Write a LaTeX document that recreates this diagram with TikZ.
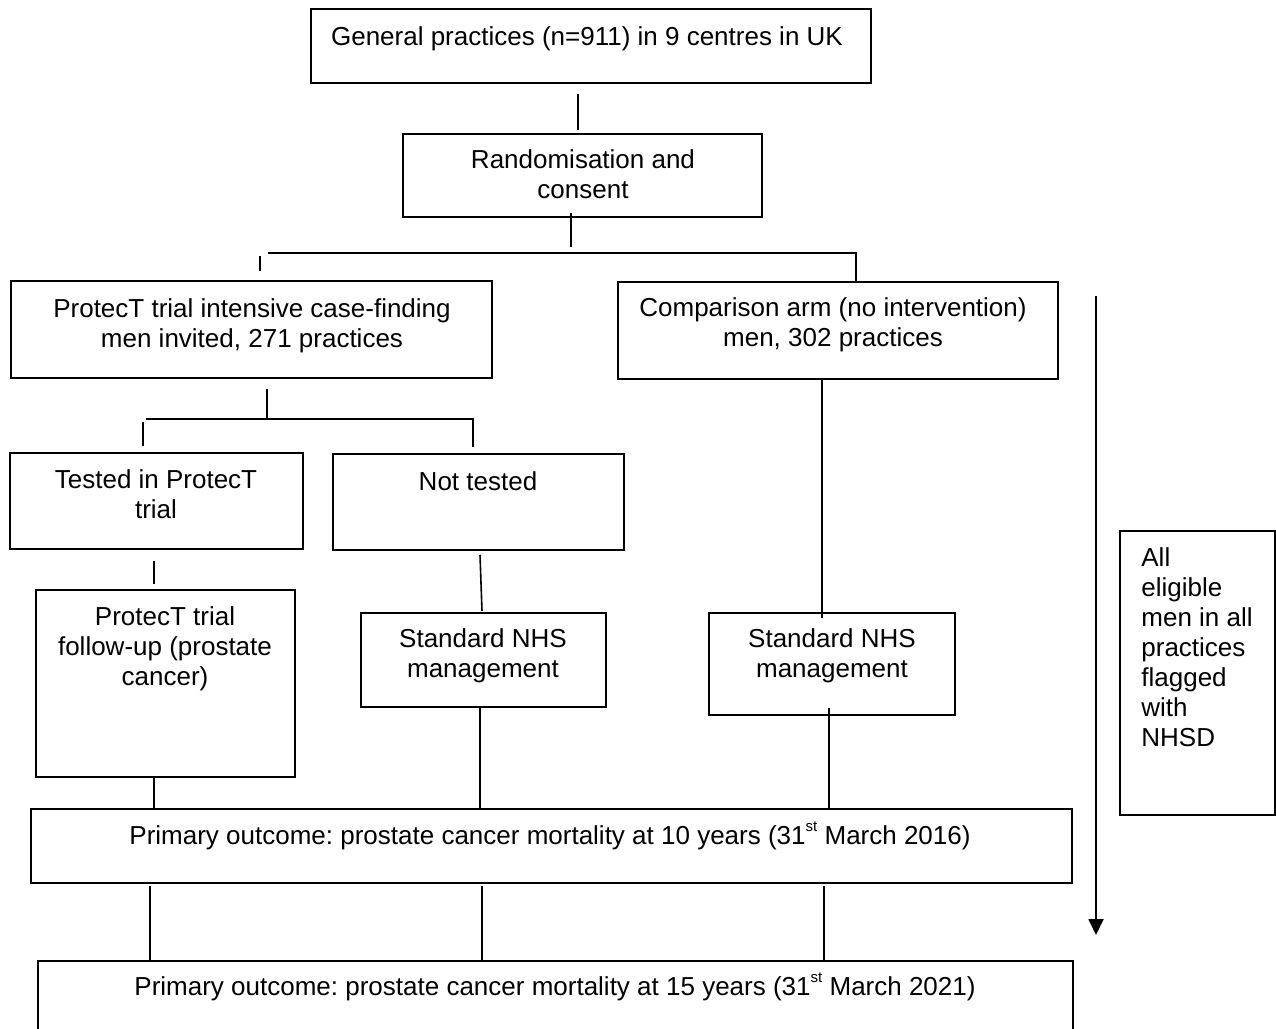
\documentclass[tikz,border=0pt]{standalone}
\usepackage{fontspec}
\setmainfont{Liberation Sans}
\usetikzlibrary{arrows.meta,calc}
\newcommand{\mysup}[1]{\raisebox{0.5em}{\fontsize{7.5pt}{8pt}\selectfont #1}}
\begin{document}
\frenchspacing
\begin{tikzpicture}[x=0.5pt,y=-0.5pt,
  box/.style={draw,line width=1pt,inner sep=0pt},
  txt/.style={inner sep=0pt,anchor=base,font=\fontsize{13pt}{15pt}\selectfont},
  conn/.style={line width=0.8pt},
  longarrow/.style={line width=0.9pt,-{Triangle[width=7.5pt,length=8pt]}}]
\useasboundingbox (0,0) rectangle (1276,1029);
\clip (0,0) rectangle (1276,1029);
\fill[white] (0,0) rectangle (1276,1029);

% boxes
\node[box,minimum width=280pt,minimum height=37pt] (gen) at (591,46) {};
\node[box,minimum width=179.5pt,minimum height=41.5pt] (rand) at (582.5,175.5) {};
\node[box,minimum width=240.5pt,minimum height=48.5pt] (protect) at (251.5,329.5) {};
\node[box,minimum width=220pt,minimum height=48.5pt] (comp) at (838,330.5) {};
\node[box,minimum width=146.5pt,minimum height=48pt] (tested) at (156.5,501) {};
\node[box,minimum width=145.5pt,minimum height=48pt] (nottested) at (478.5,502) {};
\node[box,minimum width=129.5pt,minimum height=93.5pt] (follow) at (165.5,683.5) {};
\node[box,minimum width=122.5pt,minimum height=47pt] (stdmid) at (483.5,660) {};
\node[box,minimum width=123pt,minimum height=51pt] (stdright) at (832,664) {};
\node[box,minimum width=520.5pt,minimum height=37pt] (ten) at (551.5,846) {};
\node[box,minimum width=517.5pt,minimum height=39.5pt] (fifteen) at (555.5,1000.5) {};
\node[box,minimum width=77.5pt,minimum height=142pt] (elig) at (1197.5,673) {};

% texts
\node[txt] (genT) at (587,45) {\parbox[t]{280pt}{\centering General practices (n=911) in 9 centres in UK}};
\node[txt] (randT) at (583,168) {\parbox[t]{170pt}{\centering Randomisation and\\consent}};
\node[txt] (protectT) at (252,317) {\parbox[t]{240pt}{\centering ProtecT trial intensive case-finding\\men invited, 271 practices}};
\node[txt] (compT) at (833,316) {\parbox[t]{220pt}{\centering Comparison arm (no intervention)\\men, 302 practices}};
\node[txt] (testedT) at (156,488) {\parbox[t]{140pt}{\centering Tested in ProtecT\\trial}};
\node[txt] (nottestedT) at (478,490) {\parbox[t]{140pt}{\centering Not tested}};
\node[txt] (followT) at (165,625) {\parbox[t]{128pt}{\centering ProtecT trial\\follow-up (prostate\\cancer)}};
\node[txt] (stdmidT) at (483,647) {\parbox[t]{120pt}{\centering Standard NHS\\management}};
\node[txt] (stdrightT) at (832,647) {\parbox[t]{120pt}{\centering Standard NHS\\management}};
\node[txt] (tenT) at (550,844) {\parbox[t]{500pt}{\centering Primary outcome: prostate cancer mortality at 10 years (31\mysup{st} March 2016)}};
\node[txt] (fifteenT) at (555,995) {\parbox[t]{500pt}{\centering Primary outcome: prostate cancer mortality at 15 years (31\mysup{st} March 2021)}};
\node[txt,anchor=base west] (eligT) at (1141,566) {\parbox[t]{70pt}{\raggedright All\\eligible\\men in all\\practices\\flagged\\with\\NHSD}};

% helper coordinates
\coordinate (xa) at (578,0);
\coordinate (xb) at (571,0);
\coordinate (hbarL) at (268,253);
\coordinate (hbarR) at (856,253);
\coordinate (t1) at (260,0);
\coordinate (xc) at (267,0);
\coordinate (bar2L) at (146,419);
\coordinate (bar2R) at (473,419);
\coordinate (t2) at (143,0);
\coordinate (xd) at (154,0);
\coordinate (xe) at (480,0);
\coordinate (xf) at (482,0);
\coordinate (xg) at (822,0);
\coordinate (xh) at (829,0);
\coordinate (xi) at (150,0);
\coordinate (xj) at (824,0);
\coordinate (arrS) at (1096,296);
\coordinate (arrE) at (1096,935);

% connectors
\draw[conn] ([yshift=-5pt]gen.south -| xa) -- ([yshift=1.5pt]rand.north -| xa);
\draw[conn] ([yshift=2.5pt]rand.south -| xb) -- ([yshift=3pt]hbarL -| xb);
\draw[conn] (hbarL) -- (hbarR) -- (comp.north -| hbarR);
\draw[conn] ([yshift=-1.5pt]hbarL -| t1) -- ([yshift=4.5pt]protect.north -| t1);
\draw[conn] ([yshift=-5pt]protect.south -| xc) -- (bar2L -| xc);
\draw[conn] (bar2L) -- (bar2R) -- ([yshift=3pt]nottested.north -| bar2R);
\draw[conn] ([yshift=-1.5pt]bar2L -| t2) -- ([yshift=3pt]tested.north -| t2);
\draw[conn] ([yshift=-5.5pt]tested.south -| xd) -- ([yshift=2.5pt]follow.north -| xd);
\draw[conn] ([yshift=-2pt]nottested.south -| xe) -- ([yshift=0.5pt]stdmid.north -| xf);
\draw[conn] (comp.south -| xg) -- ([yshift=-3pt]stdright.north -| xg);
\draw[conn] (follow.south -| xd) -- (ten.north -| xd);
\draw[conn] (stdmid.south -| xe) -- (ten.north -| xe);
\draw[conn] ([yshift=4pt]stdright.south -| xh) -- (ten.north -| xh);
\draw[conn] ([yshift=-1pt]ten.south -| xi) -- (fifteen.north -| xi);
\draw[conn] ([yshift=-1pt]ten.south -| xf) -- (fifteen.north -| xf);
\draw[conn] ([yshift=-1pt]ten.south -| xj) -- (fifteen.north -| xj);
\draw[longarrow] (arrS) -- (arrE);
\end{tikzpicture}
\end{document}
